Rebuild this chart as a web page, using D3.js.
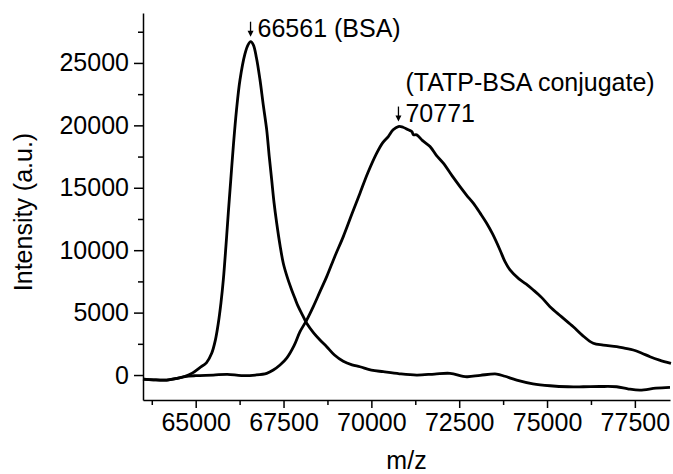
<!DOCTYPE html>
<html>
<head>
<meta charset="utf-8">
<script src="https://cdn.jsdelivr.net/npm/d3@7"></script>
<style>
  body { margin: 0; background: #fff; }
  text { font-family: "Liberation Sans", Arial, sans-serif; fill: #000; }
</style>
</head>
<body>
<svg id="chart"></svg>
<script>
// m/z and intensity
const bsaMz = [63500, 63800, 64175, 64500, 64700, 64900, 65120, 65310, 65455, 65560, 65643, 65720, 65786, 65860, 65928, 66000, 66070, 66160, 66261, 66400, 66490, 66565, 66640, 66730, 66830, 66920, 67021, 67090, 67163, 67230, 67306, 67400, 67493, 67610, 67732, 67830, 67920, 68040, 68159, 68350, 68538, 68729, 68950, 69200, 69450, 69676, 70000, 70340, 70800, 71290, 71800, 72238, 72713, 73100, 73567, 73800, 74137, 74600, 75084, 75600, 76032, 76500, 76983, 77300, 77646, 78100, 78500];
const bsaI = [-320, -380, -400, -250, -100, 150, 600, 1000, 1740, 2800, 4144, 5800, 7615, 10300, 12986, 15700, 18300, 21200, 23648, 25700, 26450, 26700, 26450, 25400, 23648, 21700, 19639, 17600, 15631, 13800, 12160, 10400, 8954, 7800, 6814, 6100, 5475, 4800, 4144, 3400, 2806, 2269, 1600, 1100, 820, 665, 400, 265, 100, 0, 80, 136, -136, -20, 80, -100, -400, -700, -858, -940, -938, -920, -938, -1100, -1202, -1050, -986];

const tatpMz = [63500, 63800, 64175, 64500, 64700, 65000, 65500, 65900, 66300, 66700, 67021, 67209, 67400, 67590, 67800, 67969, 68159, 68350, 68540, 68729, 68960, 69201, 69440, 69676, 69900, 70152, 70320, 70482, 70620, 70767, 70900, 71051, 71150, 71200, 71290, 71450, 71669, 71850, 72048, 72300, 72523, 72713, 72901, 73100, 73282, 73450, 73661, 73800, 73946, 74200, 74400, 74609, 74850, 75084, 75400, 75747, 76000, 76317, 76600, 76983, 77200, 77455, 77700, 77931, 78200, 78528];
const tatpI = [-320, -380, -400, -250, -120, -50, 0, 60, -40, 0, 136, 400, 800, 1350, 2350, 3471, 4400, 5500, 6700, 7880, 9500, 11086, 12850, 14565, 16200, 17772, 18600, 19103, 19650, 19904, 19850, 19639, 19500, 19250, 19238, 18800, 18300, 17600, 16970, 15950, 15094, 14400, 13764, 12950, 12160, 11300, 10020, 9100, 8417, 7700, 7300, 6814, 6200, 5475, 4700, 3872, 3200, 2541, 2400, 2269, 2150, 2004, 1750, 1467, 1200, 938];

const xTicks = [65000, 67500, 70000, 72500, 75000, 77500];
const xMinor = [63750, 66250, 68750, 71250, 73750, 76250];
const yTicks = [0, 5000, 10000, 15000, 20000, 25000];
const yMinor = [2500, 7500, 12500, 17500, 22500, 27500];

const peakLabels = [
  { mz: 66561, top: 26700, text: "66561 (BSA)", note: null },
  { mz: 70771, top: 19904, text: "70771", note: "(TATP-BSA conjugate)" }
];

const width = 673, height = 474;
const margin = { top: 13, right: 3, bottom: 74, left: 143 };
const fontSize = "25px";

const svg = d3.select("#chart").attr("width", width).attr("height", height);

const x = d3.scaleLinear().domain([63500, 78500]).range([margin.left, width - margin.right]);
const y = d3.scaleLinear().domain([-2000, 29000]).range([height - margin.bottom, margin.top]);

// minor ticks first, then the major axis on top
svg.append("g")
  .attr("transform", `translate(0,${height - margin.bottom})`)
  .call(d3.axisBottom(x).tickValues(xMinor).tickSize(5).tickFormat("").tickSizeOuter(0))
  .call(g => g.select(".domain").remove());
svg.append("g")
  .attr("transform", `translate(${margin.left},0)`)
  .call(d3.axisLeft(y).tickValues(yMinor).tickSize(5).tickFormat("").tickSizeOuter(0))
  .call(g => g.select(".domain").remove());

svg.append("g")
  .attr("transform", `translate(0,${height - margin.bottom})`)
  .call(d3.axisBottom(x).tickValues(xTicks).tickSize(8).tickPadding(5).tickSizeOuter(0).tickFormat(d3.format("d")));
svg.append("g")
  .attr("transform", `translate(${margin.left},0)`)
  .call(d3.axisLeft(y).tickValues(yTicks).tickSize(9).tickPadding(5).tickSizeOuter(0).tickFormat(d3.format("d")));

svg.selectAll(".tick line").attr("stroke", "#000").attr("stroke-width", 1.5);
svg.selectAll(".domain").attr("stroke", "#000").attr("stroke-width", 1.5);
svg.selectAll(".tick text").style("font-size", fontSize).attr("fill", "#000");

svg.append("text")
  .attr("x", (margin.left + width - margin.right) / 2)
  .attr("y", 469)
  .attr("text-anchor", "middle")
  .style("font-size", fontSize)
  .text("m/z");

svg.append("text")
  .attr("transform", "translate(32,212) rotate(-90)")
  .attr("text-anchor", "middle")
  .style("font-size", fontSize)
  .text("Intensity (a.u.)");

const line = d3.line()
  .x(d => x(d[0]))
  .y(d => y(d[1]))
  .curve(d3.curveCatmullRom);

const plot = svg.append("g");
[[bsaMz, bsaI], [tatpMz, tatpI]].forEach(([mz, inten]) => {
  plot.append("path")
    .datum(mz.map((m, i) => [m, inten[i]]))
    .attr("fill", "none")
    .attr("stroke", "#000")
    .attr("stroke-width", 2.8)
    .attr("stroke-linejoin", "round")
    .attr("d", line);
});

// arrows + labels above the peaks
peakLabels.forEach(p => {
  const px = x(p.mz), tipY = y(p.top) - 5;
  const g = svg.append("g");
  g.append("line")
    .attr("x1", px).attr("x2", px)
    .attr("y1", tipY - 15).attr("y2", tipY - 5)
    .attr("stroke", "#000").attr("stroke-width", 1.3);
  g.append("path")
    .attr("d", `M${px - 3},${tipY - 6}L${px + 3},${tipY - 6}L${px},${tipY}Z`)
    .attr("fill", "#000");
  g.append("text")
    .attr("x", px + 7).attr("y", tipY)
    .style("font-size", fontSize)
    .text(p.text);
  if (p.note) {
    g.append("text")
      .attr("x", px + 7).attr("y", tipY - 31)
      .style("font-size", fontSize)
      .text(p.note);
  }
});
</script>
</body>
</html>
